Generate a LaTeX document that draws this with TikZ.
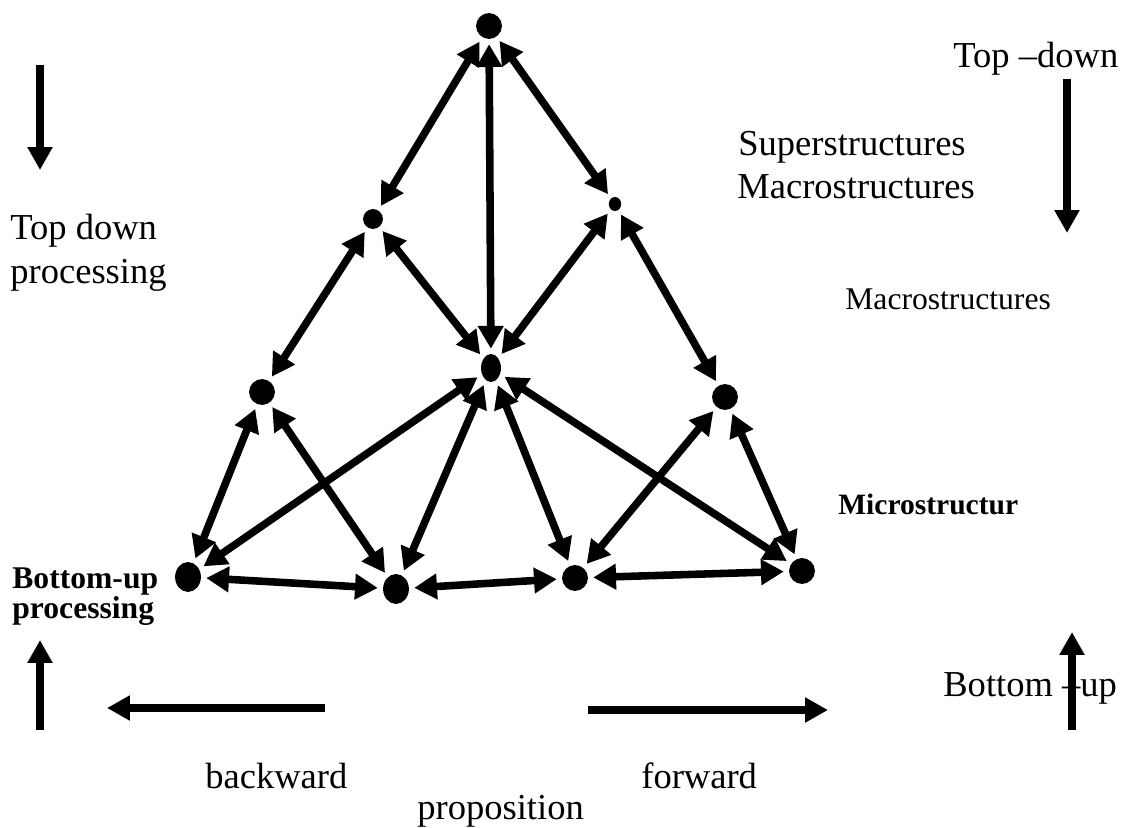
\documentclass[tikz,border=0pt]{standalone}
\usepackage{fontspec}
\setmainfont{Liberation Serif}
\usetikzlibrary{arrows.meta,shapes.geometric}
\tikzset{
  dot/.style={ellipse, fill, inner sep=0pt, outer sep=3pt},
  link/.style={line width=4.3pt, {Triangle[width=14pt,length=13pt]}-{Triangle[width=14pt,length=13pt]}},
  flow/.style={line width=4.5pt, -{Triangle[width=13.5pt,length=13pt]}},
  bigtext/.style={font=\fontsize{20.8}{24}\selectfont, inner sep=0pt, anchor=base west},
  midtext/.style={font=\fontsize{18}{21}\selectfont, inner sep=0pt, anchor=base west},
  boldtext/.style={font=\fontsize{18}{21}\selectfont\bfseries, inner sep=0pt, anchor=base west}
}
\begin{document}
\begin{tikzpicture}[x=0.02cm, y=-0.02cm]
\useasboundingbox (0,0) rectangle (1127,828);
% the points of the triangle
\node[dot, minimum width=14.7pt, minimum height=14.7pt] (apex) at (489,26) {};
\node[dot, minimum width=11.3pt, minimum height=11.3pt] (upL) at (373,219) {};
\node[dot, minimum width=7pt, minimum height=8pt] (upR) at (615,204) {};
\node[dot, minimum width=11.3pt, minimum height=15.9pt] (hub) at (491,368) {};
\node[dot, minimum width=14.7pt, minimum height=14.7pt] (midL) at (262,392) {};
\node[dot, minimum width=14.7pt, minimum height=14.7pt] (midR) at (725,397) {};
\node[dot, minimum width=14.7pt, minimum height=17pt] (baseA) at (188,577) {};
\node[dot, minimum width=14.7pt, minimum height=17pt] (baseB) at (396,589) {};
\node[dot, minimum width=14.7pt, minimum height=14.7pt] (baseC) at (575,578) {};
\node[dot, minimum width=14.7pt, minimum height=14.7pt] (baseD) at (802,571) {};
\foreach \first/\second in {apex/upL, apex/hub, apex/upR, upL/midL, upL/hub, upR/hub,
    upR/midR, midL/baseA, midL/baseB, hub/baseA, hub/baseB, hub/baseC, hub/baseD,
    midR/baseC, midR/baseD, baseA/baseB, baseB/baseC, baseC/baseD}
  \draw[link] (\first) -- (\second);

% labels
\node[bigtext] (topdown-1) at (10,239) {Top down};
\node[bigtext] (topdown-2) at (10,283) {processing};
\node[boldtext] (bottomup-1) at (12,588) {Bottom-up};
\node[boldtext] (bottomup-2) at (12,618) {processing};
\node[bigtext] (topdownR) at (953,68) {Top –down};
\node[bigtext] (super) at (738,156) {Superstructures};
\node[bigtext] (macro-1) at (737,199) {Macrostructures};
\node[midtext] (macro-2) at (845,310) {Macrostructures};
\node[boldtext, font=\fontsize{16.8}{20}\selectfont\bfseries] (micro) at (838,514) {Microstructur};
\node[bigtext] (bottomupR) at (943,696) {Bottom –up};
\node[bigtext] (backward) at (205,788) {backward};
\node[bigtext] (forward) at (641,788) {forward};
\node[bigtext] (prop) at (417,819) {proposition};

% direction arrows
\coordinate (tdL-s) at (40,65);   \coordinate (tdL-e) at (40,170);
\coordinate (tdR-s) at (1067,79); \coordinate (tdR-e) at (1067,233);
\coordinate (buL-s) at (40,730);  \coordinate (buL-e) at (40,640);
\coordinate (buR-s) at (1072,730); \coordinate (buR-e) at (1072,632);
\coordinate (bw-s) at (325,708);  \coordinate (bw-e) at (107,708);
\coordinate (fw-s) at (588,710);  \coordinate (fw-e) at (828,710);
\foreach \from in {tdL, tdR, buL, buR, bw, fw}
  \draw[flow] (\from-s) -- (\from-e);
\end{tikzpicture}
\end{document}
